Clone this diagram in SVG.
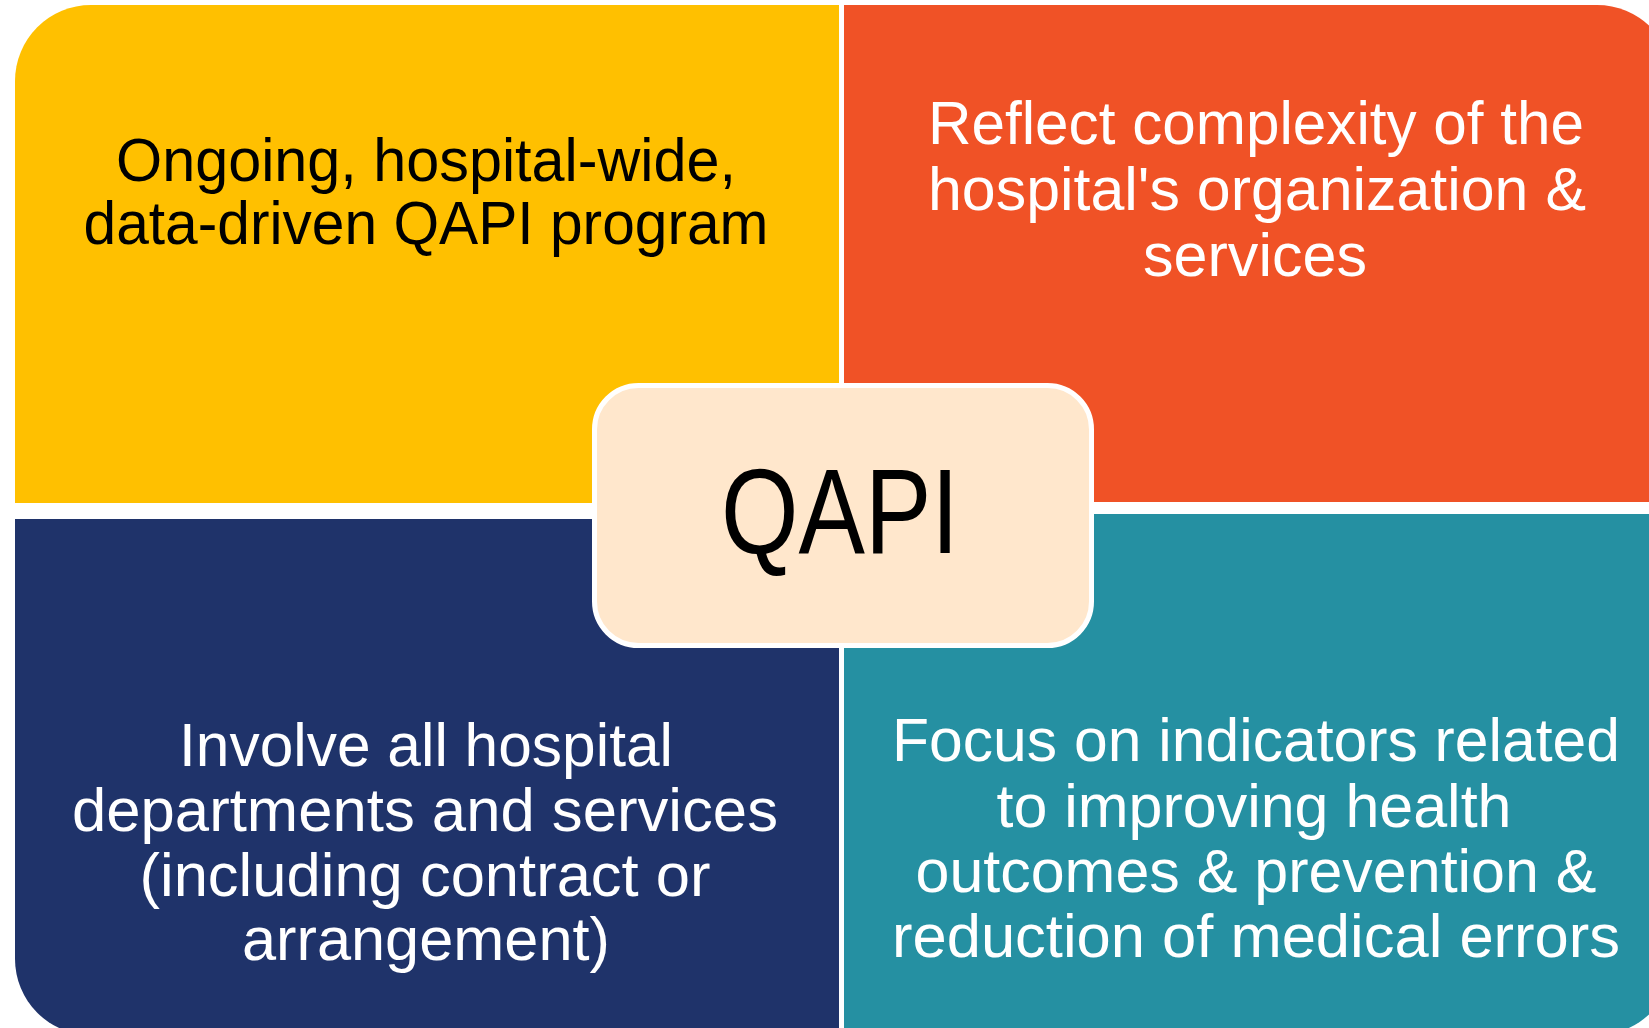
<svg xmlns="http://www.w3.org/2000/svg" width="1649" height="1028" viewBox="0 0 1649 1028">
<style>
.t{font-family:"Liberation Sans",Arial,sans-serif;font-size:62px;text-anchor:middle}
.dk{fill:#000}
.lt{fill:#fff}
.q{font-family:"Liberation Sans",Arial,sans-serif;font-size:120px;text-anchor:middle;fill:#000}
</style>
<rect width="1649" height="1028" fill="#fff"/>
<g id="node-yellow">
<path d="M15,81 A76,76 0 0 1 91,5 L839,5 L839,503 L15,503 Z" fill="#FFC000"/>
<text class="t dk" x="426" y="181" textLength="620" lengthAdjust="spacingAndGlyphs">Ongoing, hospital-wide,</text>
<text class="t dk" x="426" y="244" textLength="685" lengthAdjust="spacingAndGlyphs">data-driven QAPI program</text>
</g>
<g id="node-orange">
<path d="M844,5 L1597,5 A76,76 0 0 1 1673,81 L1673,502 L844,502 Z" fill="#F05226"/>
<text class="t lt" x="1256" y="144" textLength="656" lengthAdjust="spacingAndGlyphs">Reflect complexity of the</text>
<text class="t lt" x="1257" y="210" textLength="658" lengthAdjust="spacingAndGlyphs">hospital's organization &amp;</text>
<text class="t lt" x="1255" y="276" textLength="224" lengthAdjust="spacingAndGlyphs">services</text>
</g>
<g id="node-navy">
<path d="M15,519 L839,519 L839,1035 L91,1035 A76,76 0 0 1 15,959 Z" fill="#1F336A"/>
<text class="t lt" x="426" y="766" textLength="494" lengthAdjust="spacingAndGlyphs">Involve all hospital</text>
<text class="t lt" x="425" y="831" textLength="706" lengthAdjust="spacingAndGlyphs">departments and services</text>
<text class="t lt" x="425" y="896" textLength="571" lengthAdjust="spacingAndGlyphs">(including contract or</text>
<text class="t lt" x="426" y="960" textLength="368" lengthAdjust="spacingAndGlyphs">arrangement)</text>
</g>
<g id="node-teal">
<path d="M844,514 L1673,514 L1673,959 A76,76 0 0 1 1597,1035 L844,1035 Z" fill="#2590A2"/>
<text class="t lt" x="1256" y="761" textLength="728" lengthAdjust="spacingAndGlyphs">Focus on indicators related</text>
<text class="t lt" x="1254" y="827" textLength="515" lengthAdjust="spacingAndGlyphs">to improving health</text>
<text class="t lt" x="1256" y="892" textLength="681" lengthAdjust="spacingAndGlyphs">outcomes &amp; prevention &amp;</text>
<text class="t lt" x="1256" y="957" textLength="728" lengthAdjust="spacingAndGlyphs">reduction of medical errors</text>
</g>
<g id="connectors"></g>
<g id="node-center">
<rect x="594.5" y="385.5" width="497" height="260" rx="44" ry="44" fill="#FFE7CC" stroke="#fff" stroke-width="5"/>
<text class="q" x="840" y="553" textLength="238" lengthAdjust="spacingAndGlyphs">QAPI</text>
</g>
</svg>
